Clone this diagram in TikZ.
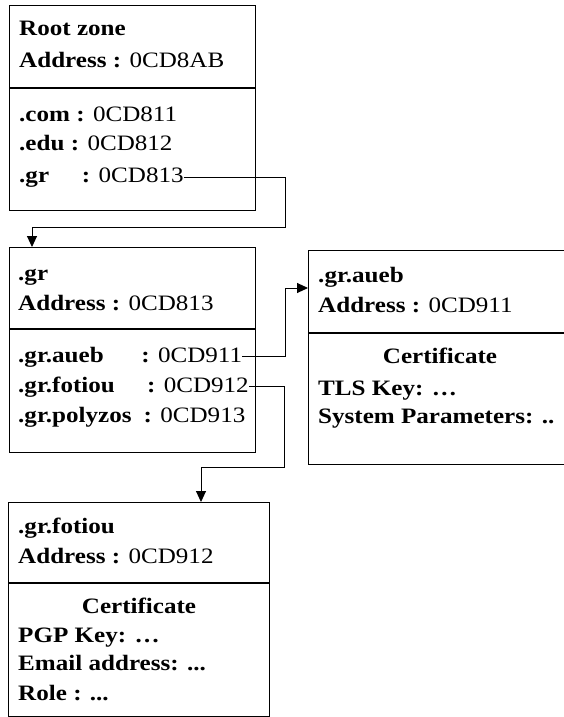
\documentclass[tikz,border=0pt]{standalone}
\usepackage{fontspec}
\setmainfont{Liberation Serif}
\usetikzlibrary{arrows.meta}

\begin{document}
\begin{tikzpicture}[x=1pt, y=-1pt,
        zone/.style={draw, line width=1.2pt, anchor=north west, inner sep=0pt},
        entry/.style={anchor=base west, inner sep=0pt, xscale=1.14, font=\fontsize{22}{26}\selectfont},
        title/.style={entry, anchor=base, font=\fontsize{22}{26}\selectfont\bfseries},
        link/.style={line width=0.9pt, -{Triangle[length=11pt,width=10pt]}}]
        \useasboundingbox (0,0) rectangle (563,717);
        % zone boxes
        \node[zone, minimum width=246pt, minimum height=205pt] (root) at (9,5) {};
        \node[zone, minimum width=246pt, minimum height=205pt] (gr) at (9,247) {};
        \node[zone, minimum width=264pt, minimum height=214pt] (aueb) at (308,250) {};
        \node[zone, minimum width=261pt, minimum height=214pt] (fotiou) at (8,502) {};
        \draw[line width=1.2pt] (root.west |- 0,88) -- (root.east |- 0,88);
        \draw[line width=1.2pt] (gr.west |- 0,329) -- (gr.east |- 0,329);
        \draw[line width=1.2pt] (aueb.west |- 0,333) -- (aueb.east |- 0,333);
        \draw[line width=1.2pt] (fotiou.west |- 0,583) -- (fotiou.east |- 0,583);
        % root zone
        \node[entry] (roott1) at (19,36) {\textbf{Root zone}};
        \node[entry] (roott2) at (19,67) {\textbf{Address :} 0CD8AB};
        \node[entry] (rootv1) at (19,121) {\textbf{.com :} 0CD811};
        \node[entry] (rootv2) at (19,150) {\textbf{.edu :} 0CD812};
        \node[entry] (rootv3) at (19,182) {\textbf{\makebox[55pt][l]{.gr}:} 0CD813};
        % .gr
        \node[entry] (grt1) at (18,280) {\textbf{.gr}};
        \node[entry] (grt2) at (18,310) {\textbf{Address :} 0CD813};
        \node[entry] (grv1) at (18,362) {\textbf{\makebox[108pt][l]{.gr.aueb}:} 0CD911};
        \node[entry] (grv2) at (18,392) {\textbf{\makebox[113pt][l]{.gr.fotiou}:} 0CD912};
        \node[entry] (grv3) at (18,422) {\textbf{\makebox[110pt][l]{.gr.polyzos}:} 0CD913};
        % .gr.aueb
        \node[entry] (auebt1) at (318,282) {\textbf{.gr.aueb}};
        \node[entry] (auebt2) at (318,312) {\textbf{Address :} 0CD911};
        \node[title] (auebc) at (440,363) {Certificate};
        \node[entry] (auebk1) at (318,395) {\textbf{TLS Key: …}};
        \node[entry] (auebk2) at (318,423) {\textbf{System Parameters: ..}};
        % .gr.fotiou
        \node[entry] (fotiout1) at (18,533) {\textbf{.gr.fotiou}};
        \node[entry] (fotiout2) at (18,563) {\textbf{Address :} 0CD912};
        \node[title] (fotiouc) at (139,613) {Certificate};
        \node[entry] (fotiouk1) at (18,642) {\textbf{PGP Key: …}};
        \node[entry] (fotiouk2) at (18,670) {\textbf{Email address: ...}};
        \node[entry] (fotiouk3) at (18,700) {\textbf{Role : ...}};
        % links
        \coordinate (bend1) at (285,227);
        \coordinate (bend2) at (285,288);
        \coordinate (bend3) at (284,467);
        \draw[link] (rootv3.east) -| (bend1) -| ([xshift=23]gr.north west);
        \draw[link] (grv1.east) -| (bend2) -- (bend2 -| aueb.west);
        \draw[link] (grv2.east) -| (bend3) -| ([xshift=193]fotiou.north west);
\end{tikzpicture}
\end{document}
